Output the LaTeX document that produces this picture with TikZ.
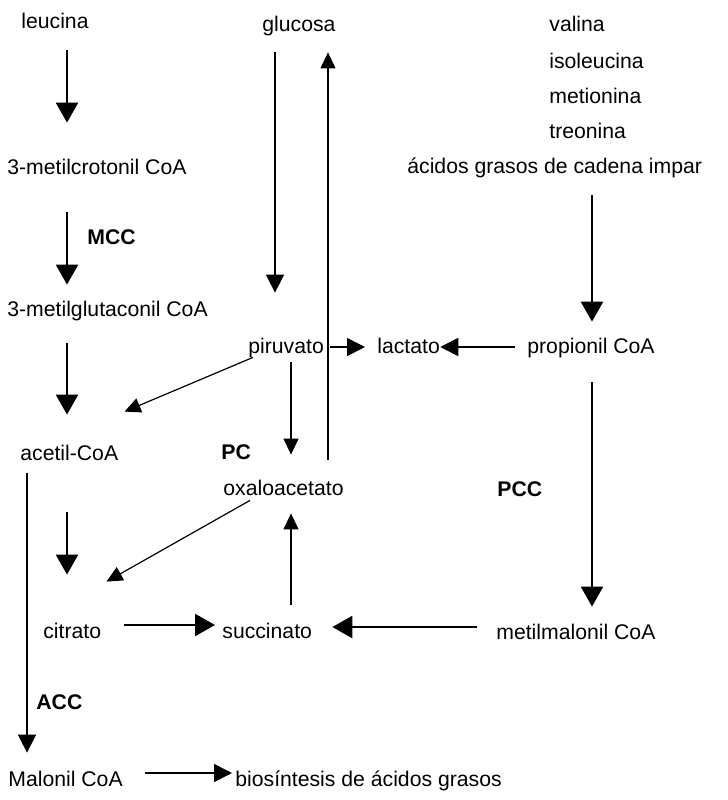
\documentclass[tikz,border=0pt]{standalone}
\usepackage{fontspec}
\setmainfont{Liberation Sans}
\usepackage{tikz}
\usetikzlibrary{arrows.meta}

\begin{document}
\begin{tikzpicture}[x=0.5pt,y=-0.5pt,
  font=\fontsize{10.6}{12.7}\selectfont,
  met/.style={anchor=west,inner sep=0pt,text height=8pt,text depth=2pt},
  enz/.style={met,font=\fontsize{10.6}{12.7}\selectfont\bfseries},
  k/.style={-{Triangle[length=10pt,width=11pt]},line width=1.2pt},
  km/.style={-{Triangle[length=9pt,width=9pt]},line width=0.8pt},
  kt/.style={-{Triangle[length=8pt,width=7.5pt]},line width=0.6pt},
]
\useasboundingbox (0,0) rectangle (728,800);

\coordinate (cA) at (67,0);
\coordinate (cL) at (27,0);
\coordinate (cG) at (275,0);
\coordinate (cU) at (328,0);
\coordinate (cP) at (291,0);
\coordinate (cR) at (592,0);

\node[met] (leu) at (21,22)  {leucina};
\node[met] (glc) at (262,25) {glucosa};
\node[met] (val) at (549,25) {valina};
\node[met] (iso) at (549,62) {isoleucina};
\node[met] (mtn) at (549,97) {metionina};
\node[met] (thr) at (549,132) {treonina};
\node[met] (agi) at (407,167) {ácidos grasos de cadena impar};
\node[met] (mcr) at (7,168)  {3-metilcrotonil CoA};
\node[enz] (mcc) at (87,238) {MCC};
\node[met] (mgl) at (7,310)  {3-metilglutaconil CoA};
\node[met] (pir) at (248,347) {piruvato};
\node[met] (lac) at (377,347) {lactato};
\node[met] (pro) at (527,347) {propionil CoA};
\node[met] (ace) at (20,454) {acetil-CoA};
\node[enz] (pc)  at (221,453) {PC};
\node[met] (oxa) at (223,489) {oxaloacetato};
\node[enz] (pcc) at (497,490) {PCC};
\node[met] (cit) at (43,632)  {citrato};
\node[met] (suc) at (222,632) {succinato};
\node[met] (mmc) at (496,633) {metilmalonil CoA};
\node[enz] (acc) at (36,703)  {ACC};
\node[met] (mal) at (8,780)   {Malonil CoA};
\node[met] (bio) at (235,780) {biosíntesis de ácidos grasos};

\draw[k,shorten <=9pt,shorten >=17.5pt] (leu.south -| cA) -- (mcr.north -| cA);
\draw[k,shorten <=17pt,shorten >=7.5pt] (mcr.south -| cA) -- (mgl.north -| cA);
\draw[k,shorten <=11.5pt,shorten >=14.5pt] (mgl.south -| cA) -- (ace.north -| cA);
\draw[k,shorten <=24pt,shorten >=23.5pt] (ace.south -| cA) -- (cit.north -| cA);
\draw[km,shorten <=4.5pt,shorten >=8.5pt] (ace.south -| cL) -- (mal.north -| cL);
\draw[km,shorten <=8.5pt,shorten >=22pt] (glc.south -| cG) -- (pir.north -| cG);
\draw[kt,shorten <=9.5pt,shorten >=8.5pt] (oxa.north -| cU) -- (glc.south -| cU);
\draw[km,shorten <=3pt,shorten >=6pt] (pir.east) -- (lac.west);
\draw[km,shorten <=6pt] (pro.west) -- (lac.east);
\draw[k,shorten <=9pt,shorten >=7.5pt] (agi.south -| cR) -- (pro.north -| cR);
\draw[k,shorten <=12.5pt,shorten >=8pt] (pro.south -| cR) -- (mmc.north -| cR);
\draw[kt] ([shift={(5,0)}]pir.south west) -- ([shift={(6,-32)}]ace.north east);
\draw[kt,shorten <=2.5pt,shorten >=12pt] (pir.south -| cP) -- (oxa.north -| cP);
\draw[kt] ([shift={(27,1)}]oxa.south west) -- ([shift={(5,-40)}]cit.north east);
\draw[kt,shorten <=8.5pt,shorten >=7pt] (suc.north -| cP) -- (oxa.south -| cP);
\draw[k,shorten <=11pt,shorten >=3.5pt] ([shift={(0,-7)}]cit.east) -- ([shift={(0,-7)}]suc.west);
\draw[k,shorten <=9.5pt,shorten >=10pt] ([shift={(0,-6)}]mmc.west) -- ([shift={(0,-5)}]suc.east);
\draw[km,shorten <=11pt,shorten >=1.5pt] ([shift={(0,-7)}]mal.east) -- ([shift={(0,-7)}]bio.west);
\end{tikzpicture}
\end{document}
